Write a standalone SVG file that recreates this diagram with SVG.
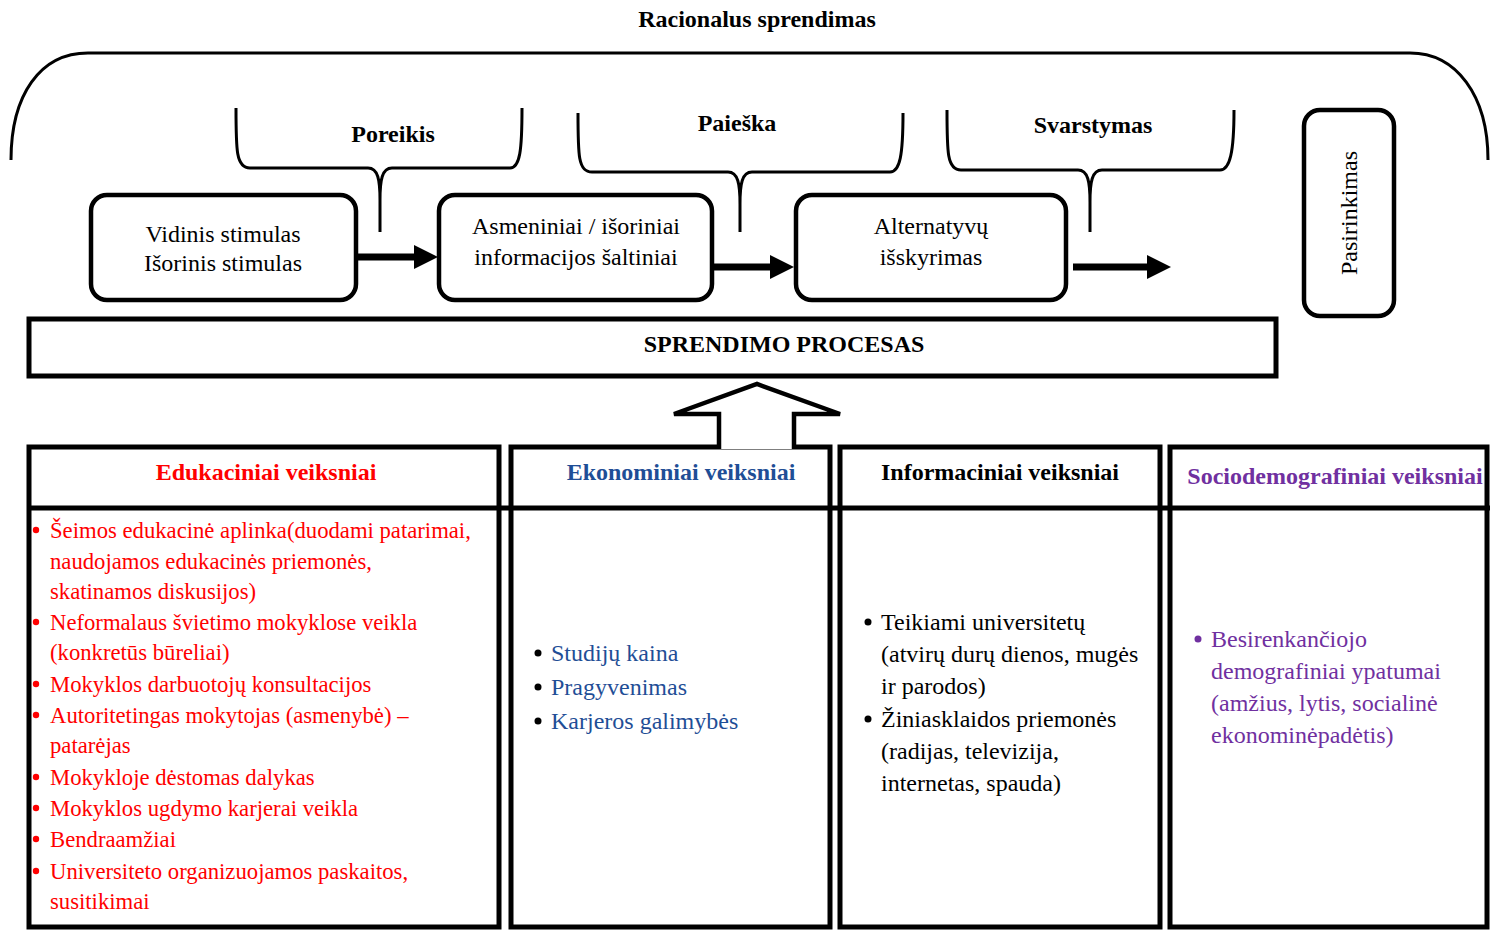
<svg xmlns="http://www.w3.org/2000/svg" width="1490" height="930" viewBox="0 0 1490 930">
  <style>
    text { font-family: "Liberation Serif", "Times New Roman", serif; }
    .lbl { font-size: 24px; fill: #000; text-anchor: middle; }
    .bold { font-weight: bold; }
    .box { fill: #fff; stroke: #000; stroke-width: 4.5; }
    .frame { fill: none; stroke: #000; stroke-width: 3; }
    .brace { fill: none; stroke: #000; stroke-width: 3; stroke-linejoin: round; }
    .flow { stroke: #000; stroke-width: 7; fill: none; }
    .col { fill: #fff; stroke: #000; stroke-width: 5; }
    .rule { stroke: #000; stroke-width: 5; }
    .item { font-size: 24px; }
    .item-sm { font-size: 22.7px; }
    .red { fill: #ff0000; }
    .blue { fill: #1f4e96; }
    .purple { fill: #7030a0; }
    .blk { fill: #000; }
  </style>
  <defs>
    <marker id="head" viewBox="0 0 24 24" refX="0" refY="12" markerWidth="24" markerHeight="24" markerUnits="userSpaceOnUse" orient="auto">
      <path d="M0,0 L24,12 L0,24 Z" fill="#000"/>
    </marker>
  </defs>

  <rect width="1490" height="930" fill="#fff"/>

  <!-- outer arc: rational decision -->
  <g id="rational">
    <path class="frame" d="M11,160 C11,95 40,53 88,53 L1410,53 C1456,53 1488,95 1488,160"/>
    <text class="lbl bold" x="757" y="27">Racionalus sprendimas</text>
  </g>

  <!-- stage braces -->
  <g id="brace-poreikis">
    <path class="brace" d="M236,108 C236,150 236,168 250,168 L368,168 C378,168 380,180 380,200 L380,232 M380,200 C380,180 382,168 392,168 L510,168 C520,168 522,150 522,108"/>
    <text class="lbl bold" x="393" y="142">Poreikis</text>
  </g>
  <g id="brace-paieska">
    <path class="brace" d="M578,113 C578,155 578,172 592,172 L728,172 C738,172 740,184 740,204 L740,232 M740,204 C740,184 742,172 752,172 L890,172 C900,172 903,155 903,113"/>
    <text class="lbl bold" x="737" y="131">Paieška</text>
  </g>
  <g id="brace-svarstymas">
    <path class="brace" d="M947,110 C947,152 947,170 961,170 L1078,170 C1088,170 1090,182 1090,202 L1090,232 M1090,202 C1090,182 1092,170 1102,170 L1220,170 C1230,170 1234,152 1234,110"/>
    <text class="lbl bold" x="1093" y="133">Svarstymas</text>
  </g>

  <!-- process steps -->
  <g id="step-stimulas">
    <rect class="box" x="91" y="195" width="265" height="105" rx="16"/>
    <text class="lbl" x="223" y="242">Vidinis stimulas</text>
    <text class="lbl" x="223" y="271">Išorinis stimulas</text>
  </g>
  <g id="step-saltiniai">
    <rect class="box" x="439" y="195" width="273" height="105" rx="16"/>
    <text class="lbl" x="576" y="234">Asmeniniai / išoriniai</text>
    <text class="lbl" x="576" y="265">informacijos šaltiniai</text>
  </g>
  <g id="step-alternatyvos">
    <rect class="box" x="796" y="195" width="270" height="105" rx="16"/>
    <text class="lbl" x="931" y="234">Alternatyvų</text>
    <text class="lbl" x="931" y="265">išskyrimas</text>
  </g>
  <g id="step-pasirinkimas">
    <rect class="box" x="1304" y="110" width="90" height="206" rx="16"/>
    <text class="lbl" transform="translate(1357,213) rotate(-90)" x="0" y="0">Pasirinkimas</text>
  </g>

  <!-- process bar -->
  <g id="process">
    <rect x="29" y="319" width="1247" height="57" fill="#fff" stroke="#000" stroke-width="5"/>
    <text class="lbl bold" x="784" y="352">SPRENDIMO PROCESAS</text>
  </g>

  <!-- factor columns -->
  <g id="col-edukaciniai">
    <rect class="col" x="29" y="447" width="470" height="480"/>
    <text class="lbl bold red" x="266" y="480">Edukaciniai veiksniai</text>
    <g class="item-sm red">
      <circle cx="36" cy="530" r="3.2"/>
      <text x="50" y="538">Šeimos edukacinė aplinka(duodami patarimai,</text>
      <text x="50" y="569">naudojamos edukacinės priemonės,</text>
      <text x="50" y="599">skatinamos diskusijos)</text>
      <circle cx="36" cy="622" r="3.2"/>
      <text x="50" y="630">Neformalaus švietimo mokyklose veikla</text>
      <text x="50" y="660">(konkretūs būreliai)</text>
      <circle cx="36" cy="684" r="3.2"/>
      <text x="50" y="692">Mokyklos darbuotojų konsultacijos</text>
      <circle cx="36" cy="715" r="3.2"/>
      <text x="50" y="723">Autoritetingas mokytojas (asmenybė) –</text>
      <text x="50" y="753">patarėjas</text>
      <circle cx="36" cy="777" r="3.2"/>
      <text x="50" y="785">Mokykloje dėstomas dalykas</text>
      <circle cx="36" cy="808" r="3.2"/>
      <text x="50" y="816">Mokyklos ugdymo karjerai veikla</text>
      <circle cx="36" cy="839" r="3.2"/>
      <text x="50" y="847">Bendraamžiai</text>
      <circle cx="36" cy="871" r="3.2"/>
      <text x="50" y="879">Universiteto organizuojamos paskaitos,</text>
      <text x="50" y="909">susitikimai</text>
    </g>
  </g>
  <g id="col-ekonominiai">
    <rect class="col" x="511" y="447" width="319" height="480"/>
    <text class="lbl bold blue" x="681" y="480">Ekonominiai veiksniai</text>
    <g class="item">
      <circle class="blk" cx="538" cy="653" r="3.5"/>
      <text class="blue" x="551" y="661">Studijų kaina</text>
      <circle class="blk" cx="538" cy="687" r="3.5"/>
      <text class="blue" x="551" y="695">Pragyvenimas</text>
      <circle class="blk" cx="538" cy="721" r="3.5"/>
      <text class="blue" x="551" y="729">Karjeros galimybės</text>
    </g>
  </g>
  <g id="col-informaciniai">
    <rect class="col" x="840" y="447" width="320" height="480"/>
    <text class="lbl bold" x="1000" y="480">Informaciniai veiksniai</text>
    <g class="item blk">
      <circle cx="868" cy="622" r="3.5"/>
      <text x="881" y="630">Teikiami universitetų</text>
      <text x="881" y="662">(atvirų durų dienos, mugės</text>
      <text x="881" y="694">ir parodos)</text>
      <circle cx="868" cy="719" r="3.5"/>
      <text x="881" y="727">Žiniasklaidos priemonės</text>
      <text x="881" y="759">(radijas, televizija,</text>
      <text x="881" y="791">internetas, spauda)</text>
    </g>
  </g>
  <g id="col-sociodemografiniai">
    <rect class="col" x="1170" y="447" width="317" height="480"/>
    <text class="lbl bold purple" x="1335" y="484">Sociodemografiniai veiksniai</text>
    <g class="item purple">
      <circle cx="1198" cy="639" r="3.5"/>
      <text x="1211" y="647">Besirenkančiojo</text>
      <text x="1211" y="679">demografiniai ypatumai</text>
      <text x="1211" y="711">(amžius, lytis, socialinė</text>
      <text x="1211" y="743">ekonominėpadėtis)</text>
    </g>
  </g>
  <line class="rule" x1="27" y1="508" x2="1490" y2="508"/>

  <!-- connectors -->
  <g id="connectors">
    <line class="flow" x1="357" y1="257" x2="414" y2="257" marker-end="url(#head)"/>
    <line class="flow" x1="713" y1="267" x2="770" y2="267" marker-end="url(#head)"/>
    <line class="flow" x1="1073" y1="267" x2="1147" y2="267" marker-end="url(#head)"/>
    <path d="M719,449 L719,414 L674,414 L757,384 L840,414 L794,414 L794,449" fill="#fff" stroke="#000" stroke-width="4.5" stroke-linejoin="miter"/>
  </g>
</svg>
